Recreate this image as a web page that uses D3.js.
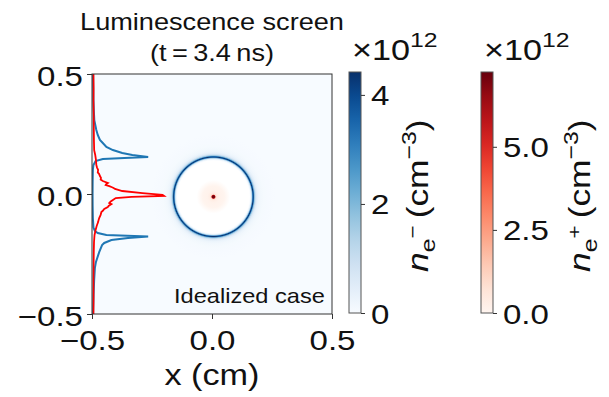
<!DOCTYPE html>
<html>
<head>
<meta charset="utf-8">
<script src="https://cdn.jsdelivr.net/npm/d3@7"></script>
<style>
  body { margin: 0; background: #fff; }
  text { font-family: "Liberation Sans", Arial, Helvetica, sans-serif; fill: #111; }
</style>
</head>
<body>
<script>
// ---- data ----
const axisTicks = [-0.5, 0.0, 0.5];
const blueCbTicks = [0, 2, 4];
const redCbTicks = [0.0, 2.5, 5.0];
const blueMax = 4.42;   // x10^12 cm^-3
const redMax = 7.25;

// ring / dot centre (cm)
const ringCentre = [0.006, -0.0115];

// radial profile of n_e- (r in cm, value x10^12)
const ringR = [0.0, 0.153, 0.157, 0.160, 0.163, 0.1655, 0.168, 0.171, 0.175, 0.180, 0.187, 0.196, 0.21, 0.23, 0.26];
const ringV = [0.0, 0.0, 0.35, 1.4, 3.2, 4.42, 3.4, 1.8, 0.9, 0.45, 0.22, 0.11, 0.05, 0.02, 0.0];

// radial profile of n_e+ around the centre
const dotR = [0.0, 0.005, 0.007, 0.01, 0.015, 0.025, 0.045, 0.07, 0.152];
const dotV = [7.25, 7.0, 5.5, 1.0, 0.35, 0.15, 0.05, 0.0, 0.0];

// line-outs along y (normalised)
const blueY = [0.5, 0.45, 0.392, 0.35, 0.308, 0.267, 0.246, 0.225, 0.2125, 0.196, 0.183, 0.171, 0.1625, 0.154, 0.15, 0.146, 0.1375, 0.121, 0.1, 0.05, 0.0, -0.05, -0.1, -0.14, -0.154, -0.1625, -0.171, -0.177, -0.183, -0.192, -0.204, -0.2125, -0.242, -0.283, -0.308, -0.358, -0.42, -0.5];
const blueV = [0.015, 0.017, 0.02, 0.025, 0.032, 0.06, 0.08, 0.11, 0.15, 0.2, 0.29, 0.42, 0.56, 0.78, 0.45, 0.15, 0.05, 0.02, 0.012, 0.009, 0.008, 0.009, 0.012, 0.02, 0.04, 0.08, 0.2, 0.78, 0.5, 0.27, 0.17, 0.14, 0.1, 0.055, 0.04, 0.03, 0.022, 0.015];

const redY = [0.5, 0.44, 0.39, 0.33, 0.267, 0.22, 0.183, 0.1625, 0.142, 0.121, 0.11, 0.1, 0.09, 0.083, 0.075, 0.067, 0.06, 0.054, 0.046, 0.042, 0.0375, 0.033, 0.029, 0.025, 0.021, 0.0125, 0.004, -0.004, -0.008, -0.012, -0.017, -0.025, -0.031, -0.0375, -0.042, -0.046, -0.05, -0.054, -0.0625, -0.07, -0.075, -0.0875, -0.1, -0.11, -0.117, -0.133, -0.15, -0.171, -0.2, -0.233, -0.3, -0.358, -0.43, -0.5];
const redV = [0.02, 0.022, 0.02, 0.023, 0.025, 0.027, 0.03, 0.045, 0.055, 0.06, 0.07, 0.085, 0.08, 0.1, 0.11, 0.125, 0.12, 0.15, 0.22, 0.2, 0.19, 0.24, 0.27, 0.3, 0.32, 0.42, 0.7, 0.98, 1.0, 0.55, 0.33, 0.29, 0.26, 0.24, 0.27, 0.25, 0.23, 0.22, 0.17, 0.15, 0.13, 0.12, 0.1, 0.09, 0.085, 0.065, 0.05, 0.035, 0.028, 0.025, 0.022, 0.02, 0.021, 0.02];

// ---- layout ----
const W = 609, H = 397;
const SX = 1.18; // glyphs in the picture are a bit wide
const svg = d3.select("body").append("svg").attr("width", W).attr("height", H);

const x = d3.scaleLinear().domain([-0.5, 0.5]).range([92, 332]);
const y = d3.scaleLinear().domain([-0.5, 0.5]).range([314, 74]);
const pScale = d3.scaleLinear().domain([0, 1]).range([-0.5, -0.2]);
const blues = (v) => d3.interpolateBlues(v / blueMax);
const reds = (v) => (v === 0 ? "#ffffff" : d3.interpolateReds(v / redMax));

const defs = svg.append("defs");
defs.append("clipPath").attr("id", "plotclip")
  .append("rect").attr("x", x(-0.5)).attr("y", y(0.5))
  .attr("width", x(0.5) - x(-0.5)).attr("height", y(-0.5) - y(0.5));

function addText(parent, px, py, str, size, anchor) {
  return parent.append("text")
    .attr("transform", `translate(${px},${py}) scale(${SX},1)`)
    .attr("text-anchor", anchor || "middle")
    .style("font-size", size + "px")
    .text(str);
}

// ---- heat map ----
const plot = svg.append("g").attr("clip-path", "url(#plotclip)");
plot.append("rect").attr("x", x(-0.5)).attr("y", y(0.5))
  .attr("width", x(0.5) - x(-0.5)).attr("height", y(-0.5) - y(0.5))
  .attr("fill", blues(0));

const cx = x(ringCentre[0]), cy = y(ringCentre[1]);
const ringMax = d3.max(ringR);
const rg = defs.append("radialGradient").attr("id", "ringgrad")
  .attr("gradientUnits", "userSpaceOnUse")
  .attr("cx", cx).attr("cy", cy).attr("r", x(ringMax) - x(0));
rg.selectAll("stop").data(ringR).join("stop")
  .attr("offset", (d) => d / ringMax)
  .attr("stop-color", (d, i) => blues(ringV[i]));
plot.append("circle").attr("cx", cx).attr("cy", cy)
  .attr("r", x(ringMax) - x(0)).attr("fill", "url(#ringgrad)");

const dotMax = d3.max(dotR);
const dg = defs.append("radialGradient").attr("id", "dotgrad")
  .attr("gradientUnits", "userSpaceOnUse")
  .attr("cx", cx).attr("cy", cy).attr("r", x(dotMax) - x(0));
dg.selectAll("stop").data(dotR).join("stop")
  .attr("offset", (d) => d / dotMax)
  .attr("stop-color", (d, i) => reds(dotV[i]));
plot.append("circle").attr("cx", cx).attr("cy", cy)
  .attr("r", x(dotMax) - x(0)).attr("fill", "url(#dotgrad)");

// ---- line-outs ----
const line = d3.line().x((d) => x(pScale(d[1]))).y((d) => y(d[0]));
plot.append("path").datum(blueY.map((v, i) => [v, blueV[i]]))
  .attr("d", line).attr("fill", "none").attr("stroke", "#1f77b4").attr("stroke-width", 2);
plot.append("path").datum(redY.map((v, i) => [v, redV[i]]))
  .attr("d", line).attr("fill", "none").attr("stroke", "#ff0000").attr("stroke-width", 1.8);

// ---- frame + axes ----
svg.append("rect").attr("x", x(-0.5)).attr("y", y(0.5))
  .attr("width", x(0.5) - x(-0.5)).attr("height", y(-0.5) - y(0.5))
  .attr("fill", "none").attr("stroke", "#333").attr("stroke-width", 1);

const fmt = d3.format(".1f");
const yAxis = svg.append("g").attr("transform", `translate(${x(-0.5)},0)`)
  .call(d3.axisLeft(y).tickValues(axisTicks).tickSize(5).tickFormat(fmt));
const xAxis = svg.append("g").attr("transform", `translate(0,${y(-0.5)})`)
  .call(d3.axisBottom(x).tickValues(axisTicks).tickSize(5).tickFormat(fmt));
[xAxis, yAxis].forEach((a) => {
  a.select(".domain").remove();
  a.selectAll(".tick line").attr("stroke", "#333");
  a.selectAll(".tick text").attr("fill", "#111").style("font-size", "28px")
    .attr("font-family", null);
});
yAxis.selectAll(".tick text").attr("x", null).attr("dy", null)
  .attr("transform", `translate(-9,11) scale(${SX},1)`);
xAxis.selectAll(".tick text").attr("y", null).attr("dy", null)
  .attr("transform", `translate(0,36) scale(${SX},1)`);

addText(svg, x(0), 385, "x (cm)", 29);
addText(svg, x(0), 30, "Luminescence screen", 23);
addText(svg, x(0), 61, "(t\u2009=\u20093.4\u2009ns)", 23);
addText(svg, x(0.47), 303, "Idealized case", 20, "end");

// ---- colour bars ----
function colorbar(id, x0, labelX, maxV, ticks, tickFmt, interp, sign) {
  const cb = d3.scaleLinear().domain([0, maxV]).range([313, 72]);
  const grad = defs.append("linearGradient").attr("id", id)
    .attr("x1", 0).attr("y1", 1).attr("x2", 0).attr("y2", 0);
  grad.selectAll("stop").data(d3.range(11)).join("stop")
    .attr("offset", (d) => d / 10)
    .attr("stop-color", (d) => interp(d / 10));
  const bw = 12;
  svg.append("rect").attr("x", x0).attr("y", cb(maxV)).attr("width", bw)
    .attr("height", cb(0) - cb(maxV)).attr("fill", `url(#${id})`)
    .attr("stroke", "#555").attr("stroke-width", 1);
  const ax = svg.append("g").attr("transform", `translate(${x0 + bw},0)`)
    .call(d3.axisRight(cb).tickValues(ticks).tickSize(4).tickFormat(tickFmt));
  ax.select(".domain").remove();
  ax.selectAll(".tick line").attr("stroke", "#333");
  ax.selectAll(".tick text").attr("fill", "#111").style("font-size", "28px")
    .attr("font-family", null).attr("x", null).attr("dy", null)
    .attr("transform", `translate(10,10) scale(${SX},1)`);

  const mult = svg.append("text")
    .attr("transform", `translate(${x0 + 3},60) scale(${SX},1)`)
    .style("font-size", "29px");
  mult.append("tspan").text("\u00d710");
  mult.append("tspan").text("12").style("font-size", "21px").attr("dy", -13);

  const lab = svg.append("text")
    .attr("transform", `translate(${labelX},${cb(0) - 41}) rotate(-90) scale(${SX},1)`)
    .style("font-size", "30px");
  lab.append("tspan").text("n").style("font-style", "italic");
  lab.append("tspan").text("e").style("font-size", "21px").attr("dy", 7);
  lab.append("tspan").text(sign).style("font-size", "19px").attr("dy", -16);
  lab.append("tspan").text("\u2009(cm").attr("dy", 9);
  lab.append("tspan").text("\u22123").style("font-size", "21px").attr("dy", -12);
  lab.append("tspan").text(")").attr("dy", 12);
}
colorbar("bluegrad", 349, 428, blueMax, blueCbTicks, d3.format("d"), d3.interpolateBlues, "\u2212");
colorbar("redgrad", 481, 590, redMax, redCbTicks, d3.format(".1f"), d3.interpolateReds, "+");
</script>
</body>
</html>
